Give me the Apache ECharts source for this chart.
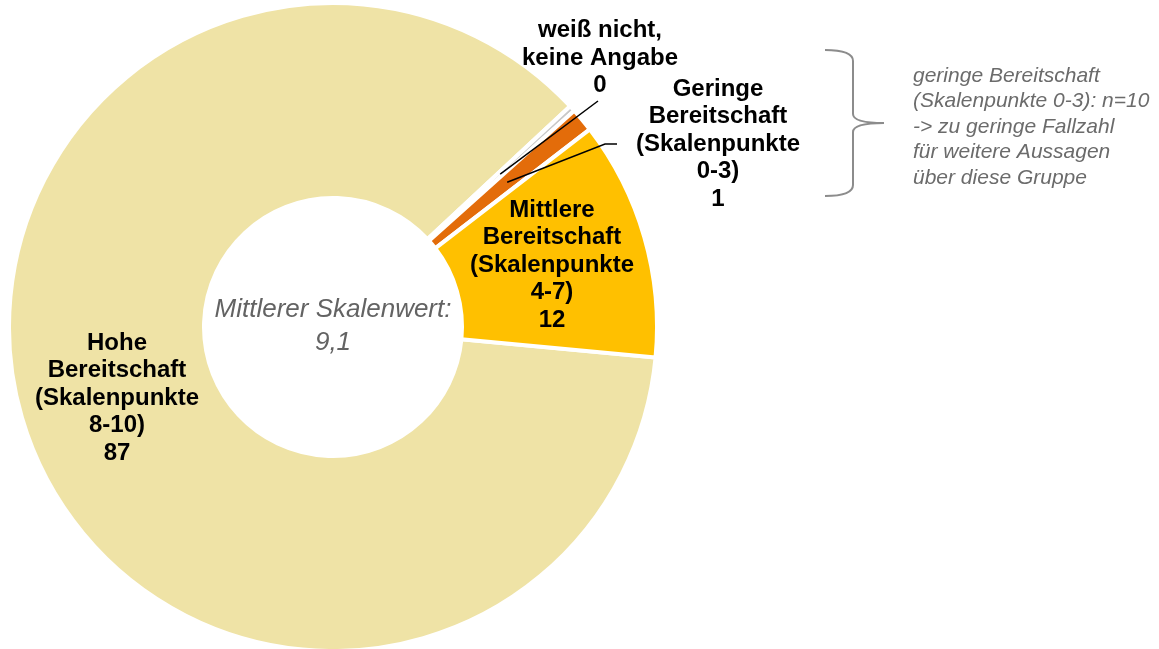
<!DOCTYPE html>
<html>
<head>
<meta charset="utf-8">
<script src="https://cdn.jsdelivr.net/npm/echarts@6/dist/echarts.min.js"></script>
<style>
  html, body { margin: 0; padding: 0; background: #fff; }
  #chart { width: 1159px; height: 649px; }
</style>
</head>
<body>
<div id="chart"></div>
<script>
// categories in drawing order (clockwise from the lower right)
const categories = [
  'Hohe\nBereitschaft\n(Skalenpunkte\n8-10)',
  'weiß nicht,\nkeine Angabe',
  'Geringe\nBereitschaft\n(Skalenpunkte\n0-3)',
  'Mittlere\nBereitschaft\n(Skalenpunkte\n4-7)'
]
const values = [87, 0.3, 1.2, 12]
const centerText = ['Mittlerer Skalenwert:', '9,1']
const noteLines = [
  'geringe Bereitschaft',
  '(Skalenpunkte 0-3): n=10',
  '-> zu geringe Fallzahl',
  'für weitere Aussagen',
  'über diese Gruppe'
]

const colors = ['#EFE3A6', '#C8C8C8', '#E36C0A', '#FFC000']
const cx = 333, cy = 327
const r0 = 129, r1 = 324
const startAngle = -5.4
const font = '"Liberation Sans", Arial, sans-serif'
// label anchor (centre of text block)
const labelPos = [[117, 398], [600, 58], [718, 144], [552, 265]]

const total = values.reduce((a, b) => a + b, 0)
// point in the middle of the ring at the slice's middle angle
function ringPoint(i) {
  let before = 0
  for (let k = 0; k < i; k++) before += values[k]
  const a = (startAngle - (before + values[i] / 2) / total * 360) * Math.PI / 180
  const r = (r0 + r1) / 2
  return [cx + r * Math.cos(a), cy - r * Math.sin(a)]
}

const lineStyle = { stroke: '#000', lineWidth: 1.5, fill: 'none' }
function leader(points) {
  return { type: 'polyline', silent: true, z: 10, shape: { points: points }, style: lineStyle }
}

// curly brace next to the note
const braceStyle = { stroke: '#8C8C8C', lineWidth: 2, fill: 'none' }
function curve(x1, y1, cpx, cpy, x2, y2) {
  return { type: 'bezierCurve', silent: true, shape: { x1: x1, y1: y1, cpx1: cpx, cpy1: cpy, x2: x2, y2: y2 }, style: braceStyle }
}
function seg(x1, y1, x2, y2) {
  return { type: 'line', silent: true, shape: { x1: x1, y1: y1, x2: x2, y2: y2 }, style: braceStyle }
}

const chart = echarts.init(document.getElementById('chart'))

chart.setOption({
  animation: false,
  backgroundColor: '#fff',
  series: [{
    type: 'pie',
    silent: true,
    clockwise: true,
    startAngle: startAngle,
    center: [cx, cy],
    radius: [r0, r1],
    avoidLabelOverlap: false,
    itemStyle: {
      borderColor: '#fff',
      borderWidth: 4
    },
    label: {
      show: true,
      color: '#000',
      fontFamily: font,
      fontWeight: 'bold',
      fontSize: 24,
      lineHeight: 27.5,
      align: 'center',
      formatter: p => p.name + '\n' + Math.round(p.value)
    },
    labelLine: { show: false },
    labelLayout: function (params) {
      const pos = labelPos[params.dataIndex]
      return { x: pos[0], y: pos[1], align: 'center', verticalAlign: 'middle' }
    },
    data: categories.map((name, i) => ({
      name: name,
      value: values[i],
      itemStyle: { color: colors[i] },
      label: { position: (i === 1 || i === 2) ? 'outside' : 'inside' }
    }))
  }],
  graphic: [
    {
      type: 'text',
      silent: true,
      x: cx,
      y: cy - 1,
      style: {
        text: centerText.join('\n'),
        align: 'center',
        verticalAlign: 'middle',
        fill: '#636363',
        font: 'italic 26px ' + font,
        lineHeight: 33
      }
    },
    // leader lines for the two small slices
    leader([ringPoint(1), [labelPos[1][0] - 2, labelPos[1][1] + 43]]),
    leader([ringPoint(2), [labelPos[2][0] - 113, labelPos[2][1]], [labelPos[2][0] - 101, labelPos[2][1]]]),
    curve(825, 50, 853, 50, 853, 61),
    seg(853, 61, 853, 114),
    curve(853, 114, 853, 123, 884, 123),
    curve(884, 123, 853, 123, 853, 132),
    seg(853, 132, 853, 185),
    curve(853, 185, 853, 196, 825, 196),
    {
      type: 'text',
      silent: true,
      x: 913,
      y: 63,
      style: {
        text: noteLines.join('\n'),
        fill: '#6B6B6B',
        font: 'italic 21px ' + font,
        lineHeight: 25.5
      }
    }
  ]
})
</script>
</body>
</html>
